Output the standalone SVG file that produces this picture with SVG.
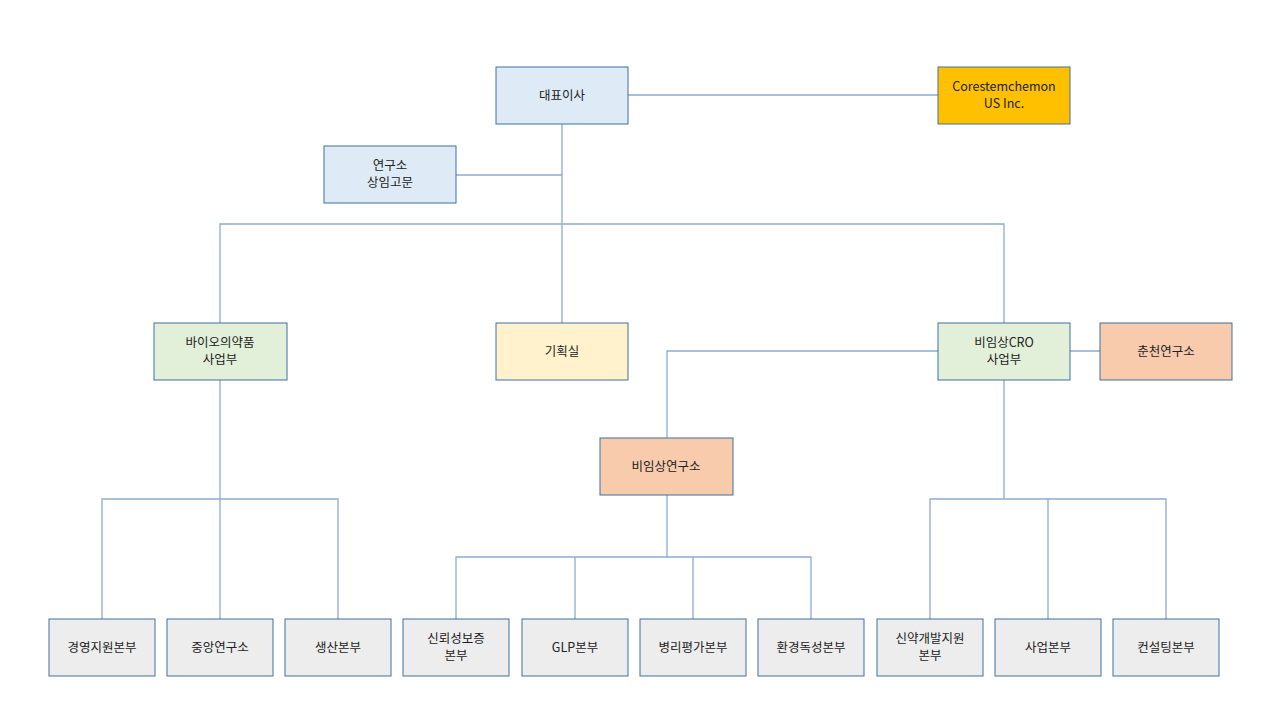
<svg xmlns="http://www.w3.org/2000/svg" width="1280" height="720" viewBox="0 0 1280 720">
<style>
rect{stroke:#41719c;stroke-width:1}
.b{fill:#deebf7}.g{fill:#e2f0d9}.y{fill:#fff2cc}.o{fill:#f8cbad}.au{fill:#ffc000}.gr{fill:#ededed}
text{font-family:"Noto Sans CJK KR","Liberation Sans",sans-serif;font-size:12.5px;fill:#222;text-anchor:middle}
#connectors path{fill:none;stroke:#8eaad4;stroke-width:1.3}
</style>
<rect width="1280" height="720" fill="#fff" style="stroke:none"/>
<g id="connectors">
<path d="M562 124V323M456 175H562M220 323V224H1004V323M628 95H938M1070 351H1100M938 351H667V438"/>
<path d="M220 380V499M102 619V499H338V619M220 499V619"/>
<path d="M667 495V557M456 619V557H811V619M575 557V619M693 557V619"/>
<path d="M1004 380V499M930 619V499H1166V619M1048 499V619"/>
</g>
<g id="ceo"><rect class="b" x="496" y="67" width="132" height="57"/><text x="562" y="100">대표이사</text></g>
<g id="us"><rect class="au" x="938" y="67" width="132" height="57"/><text x="1004" y="91">Corestemchemon</text><text x="1004" y="108">US Inc.</text></g>
<g id="advisor"><rect class="b" x="324" y="146" width="132" height="57"/><text x="390" y="170">연구소</text><text x="390" y="187">상임고문</text></g>
<g id="bio"><rect class="g" x="154" y="323" width="133" height="57"/><text x="220" y="347">바이오의약품</text><text x="220" y="364">사업부</text></g>
<g id="plan"><rect class="y" x="496" y="323" width="132" height="57"/><text x="562" y="356">기획실</text></g>
<g id="cro"><rect class="g" x="938" y="323" width="132" height="57"/><text x="1004" y="347">비임상CRO</text><text x="1004" y="364">사업부</text></g>
<g id="chuncheon"><rect class="o" x="1100" y="323" width="132" height="57"/><text x="1166" y="356">춘천연구소</text></g>
<g id="nonclinical"><rect class="o" x="600" y="438" width="133" height="57"/><text x="666" y="471">비임상연구소</text></g>
<g id="n1"><rect class="gr" x="49" y="619" width="106" height="57"/><text x="102" y="652">경영지원본부</text></g>
<g id="n2"><rect class="gr" x="167" y="619" width="106" height="57"/><text x="220" y="652">중앙연구소</text></g>
<g id="n3"><rect class="gr" x="285" y="619" width="106" height="57"/><text x="338" y="652">생산본부</text></g>
<g id="n4"><rect class="gr" x="403" y="619" width="106" height="57"/><text x="456" y="643">신뢰성보증</text><text x="456" y="660">본부</text></g>
<g id="n5"><rect class="gr" x="522" y="619" width="106" height="57"/><text x="575" y="652">GLP본부</text></g>
<g id="n6"><rect class="gr" x="640" y="619" width="106" height="57"/><text x="693" y="652">병리평가본부</text></g>
<g id="n7"><rect class="gr" x="758" y="619" width="106" height="57"/><text x="811" y="652">환경독성본부</text></g>
<g id="n8"><rect class="gr" x="877" y="619" width="106" height="57"/><text x="930" y="643">신약개발지원</text><text x="930" y="660">본부</text></g>
<g id="n9"><rect class="gr" x="995" y="619" width="106" height="57"/><text x="1048" y="652">사업본부</text></g>
<g id="n10"><rect class="gr" x="1113" y="619" width="106" height="57"/><text x="1166" y="652">컨설팅본부</text></g>
</svg>
